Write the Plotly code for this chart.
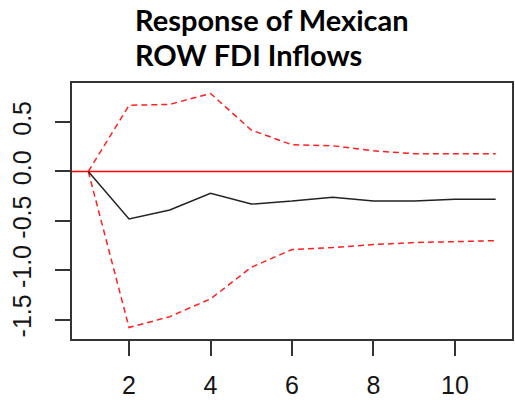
import plotly.graph_objects as go

steps = [1, 2, 3, 4, 5, 6, 7, 8, 9, 10, 11]
response = [0.0, -0.48, -0.39, -0.22, -0.33, -0.30, -0.26, -0.30, -0.30, -0.28, -0.28]
upper = [0.0, 0.67, 0.68, 0.79, 0.42, 0.27, 0.26, 0.21, 0.18, 0.18, 0.18]
lower = [0.0, -1.58, -1.47, -1.29, -0.97, -0.79, -0.77, -0.74, -0.72, -0.71, -0.70]
xticks = [2, 4, 6, 8, 10]
yticks = [-1.5, -1.0, -0.5, 0.0, 0.5]
title_lines = ["Response of Mexican", "ROW FDI Inflows"]

fig = go.Figure()
fig.add_trace(go.Scatter(x=steps, y=upper, mode="lines",
                         line=dict(color="#ff2020", width=1.5, dash="6px,4px")))
fig.add_trace(go.Scatter(x=steps, y=lower, mode="lines",
                         line=dict(color="#ff2020", width=1.5, dash="6px,4px")))
fig.add_hline(y=0, line=dict(color="#ff0000", width=1.5))
fig.add_trace(go.Scatter(x=steps, y=response, mode="lines",
                         line=dict(color="#222222", width=1.5)))

axis_common = dict(showgrid=False, zeroline=False, showline=True, linecolor="#333333",
                   linewidth=1.5, mirror=True, ticks="outside", ticklen=15,
                   tickwidth=1.5, tickcolor="#333333",
                   tickfont=dict(family="Liberation Sans, Arial", size=25, color="#151515"))

fig.update_xaxes(range=[0.6, 11.4], tickvals=xticks,
                 ticktext=[str(v) for v in xticks], ticklabelstandoff=8, **axis_common)
fig.update_yaxes(range=[-1.696, 0.896], tickvals=yticks,
                 ticktext=[f"{v:.1f}" for v in yticks], tickangle=-90,
                 ticklabelstandoff=14, **axis_common)

for i, line in enumerate(title_lines):
    fig.add_annotation(text=f"<b>{line}</b>", xref="paper", yref="paper",
                       x=(133 - 72) / 442, y=1 + (83 - (19 + 35 * i)) / 256,
                       xanchor="left", yanchor="middle", showarrow=False,
                       font=dict(family="Lato", size=29, color="#000000"))

fig.update_layout(width=515, height=402, showlegend=False,
                  margin=dict(l=72, r=1, t=83, b=63),
                  plot_bgcolor="white", paper_bgcolor="white")

fig.write_html("out.html")
